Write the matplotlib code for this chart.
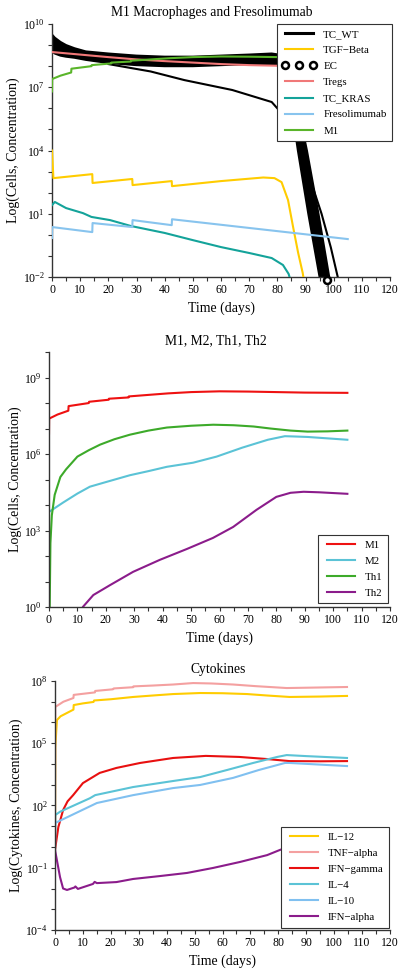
import numpy as np
import matplotlib
matplotlib.use('Agg')
import matplotlib.pyplot as plt
from matplotlib.ticker import FixedLocator, LogFormatterSciNotation, NullFormatter, MultipleLocator
from matplotlib.lines import Line2D

plt.rcParams['font.family'] = ['Liberation Serif', 'DejaVu Serif']
plt.rcParams['mathtext.fontset'] = 'stix'
plt.rcParams['axes.unicode_minus'] = True

# --- panel 1: M1 Macrophages and Fresolimumab
tcwt_up_t = [0, 1, 3, 5, 8, 12, 20, 30, 40, 50, 60, 70, 78, 83, 86, 88, 90.5, 94.6, 98.8]
tcwt_up_y = [9.5, 9.35, 9.15, 9.0, 8.85, 8.7, 8.6, 8.5, 8.45, 8.45, 8.5, 8.55, 8.6, 8.5, 7.0, 5.6, 4.0, 1.0, -2.3]
tcwt_lo_t = [0, 1, 3, 5, 8, 12, 20, 30, 40, 50, 60, 70, 78, 82, 84, 86, 87.3, 91, 95, 95.4]
tcwt_lo_y = [8.7, 8.6, 8.5, 8.45, 8.4, 8.3, 8.15, 8.05, 8.0, 8.0, 8.05, 8.1, 8.1, 8.0, 6.9, 5.2, 4.0, 1.0, -2.0, -2.3]
tcwt_run_t = [20, 35, 47, 64, 78, 84, 88.5, 92, 95.7, 99, 101.8]
tcwt_run_y = [8.1, 7.75, 7.34, 6.87, 6.3, 5.4, 4.0, 2.5, 1.0, -0.6, -2.2]

tgf_t = [0, 0.5, 14.3, 14.4, 28.5, 28.6, 42.5, 42.6, 60, 75, 79, 81.5, 83.8, 85.6, 87.4, 89.0, 89.6]
tgf_y = [4.0, 2.69, 2.88, 2.46, 2.65, 2.36, 2.55, 2.31, 2.55, 2.72, 2.69, 2.5, 1.65, 0.37, -0.86, -1.8, -2.3]

ec_t = [97.5]
ec_y = [-2.14]

tregs_t = [0, 10, 20, 30, 40, 50, 60, 70, 80, 90, 105]
tregs_y = [8.67, 8.55, 8.43, 8.32, 8.24, 8.17, 8.1, 8.05, 8.02, 8.0, 8.0]

kras_t = [0, 1, 5, 11, 14, 20.6, 28, 40, 50, 60, 70, 78, 82, 84, 85]
kras_y = [1.41, 1.56, 1.27, 1.03, 0.85, 0.7, 0.42, 0.09, -0.25, -0.58, -0.86, -1.1, -1.43, -1.85, -2.3]

freso_t = [0, 0.05, 14.3, 14.4, 28.5, 28.6, 42.5, 42.6, 105]
freso_y = [-0.15, 0.37, 0.13, 0.56, 0.37, 0.70, 0.46, 0.74, -0.2]

m1_t = [0, 0.05, 3, 6.8, 6.9, 14, 14.1, 21, 21.1, 28, 28.1, 35, 42, 50, 60, 70, 80, 90, 105]
m1_y = [6.8, 7.39, 7.55, 7.7, 7.88, 8.0, 8.05, 8.13, 8.17, 8.22, 8.26, 8.32, 8.38, 8.43, 8.46, 8.45, 8.43, 8.41, 8.4]

# --- panel 2: M1, M2, Th1, Th2
m2_t = [0, 5, 10, 14.4, 20, 28.5, 35, 41.5, 50.7, 59, 68, 77, 83, 86, 91, 105]
m2_y = [3.73, 4.1, 4.45, 4.72, 4.9, 5.17, 5.33, 5.5, 5.66, 5.9, 6.25, 6.56, 6.7, 6.69, 6.67, 6.56]

th1_t = [0.2, 0.5, 1, 2, 4, 6, 10, 14, 18, 23, 28.5, 35, 41.5, 50, 57.8, 65, 72, 78, 85, 91, 98, 105]
th1_y = [-0.5, 2.5, 3.6, 4.4, 5.1, 5.4, 5.9, 6.15, 6.37, 6.58, 6.76, 6.92, 7.04, 7.11, 7.15, 7.13, 7.08, 7.0, 6.92, 6.88, 6.89, 6.92]

th2_t = [11.3, 11.9, 15.6, 21.5, 29.6, 39, 48.6, 57.7, 64.8, 73, 80, 85, 89.6, 95, 105]
th2_y = [-0.3, 0, 0.47, 0.86, 1.38, 1.85, 2.28, 2.71, 3.14, 3.81, 4.32, 4.48, 4.52, 4.5, 4.44]

# --- panel 3: Cytokines
il12_t = [0, 0.1, 0.7, 2, 4.3, 6.6, 6.7, 10, 13.8, 14, 20, 28, 35, 42.3, 52, 60, 68.8, 76, 84, 95, 104.6]
il12_y = [-0.14, 4.8, 6.12, 6.3, 6.46, 6.62, 6.84, 6.92, 6.99, 7.06, 7.12, 7.23, 7.3, 7.37, 7.42, 7.41, 7.37, 7.3, 7.23, 7.25, 7.28]

tnf_t = [0, 0.1, 3, 6.6, 6.7, 14.3, 14.4, 20.8, 21, 28, 28.1, 35, 42.3, 49.5, 56, 63.8, 72, 83, 92, 104.6]
tnf_y = [-0.14, 6.75, 7.0, 7.18, 7.33, 7.45, 7.52, 7.6, 7.64, 7.7, 7.74, 7.78, 7.83, 7.9, 7.88, 7.83, 7.75, 7.66, 7.68, 7.71]

ifng_t = [0, 1.2, 2.9, 4.5, 6.5, 10, 16, 22, 30.5, 42.3, 54, 66, 75.8, 84, 95, 104.6]
ifng_y = [-0.14, 0.96, 1.78, 2.2, 2.5, 3.08, 3.57, 3.81, 4.05, 4.29, 4.39, 4.34, 4.24, 4.14, 4.13, 4.14]

il4_t = [0, 0.1, 1.8, 12.5, 14.4, 28, 42.3, 52, 61.6, 71, 79.6, 83, 90, 104.6]
il4_y = [-0.14, 1.54, 1.7, 2.35, 2.5, 2.89, 3.18, 3.37, 3.71, 4.05, 4.34, 4.43, 4.38, 4.29]

il10_t = [0, 0.1, 15, 28, 42.3, 52, 63.8, 73, 82.4, 84, 95, 104.6]
il10_y = [-0.14, 1.16, 2.12, 2.5, 2.84, 2.99, 3.33, 3.71, 4.05, 4.05, 3.97, 3.9]

ifna_t = [0, 1.8, 2.9, 4.3, 7.0, 7.3, 8.2, 13.6, 14.2, 15, 22, 28, 37.6, 47.3, 56.6, 66.3, 76, 80.6, 90, 105]
ifna_y = [-0.14, -1.45, -2.0, -2.07, -1.95, -1.9, -2.02, -1.78, -1.68, -1.74, -1.69, -1.54, -1.40, -1.25, -1.01, -0.72, -0.39, -0.14, 0.3, 0.8]


def p10(v):
    return np.power(10.0, np.array(v))


def style_axes(ax, ymin, ymax, majors, ylabel, title, title_x):
    ax.set_yscale('log')
    ax.set_xlim(0, 120)
    ax.set_ylim(10.0**ymin, 10.0**ymax)
    ax.yaxis.set_major_locator(FixedLocator([10.0**e for e in majors]))
    ax.yaxis.set_minor_locator(FixedLocator([10.0**e for e in range(ymin, ymax + 1)]))
    ax.yaxis.set_major_formatter(LogFormatterSciNotation())
    ax.yaxis.set_minor_formatter(NullFormatter())
    ax.xaxis.set_major_locator(MultipleLocator(10))
    ax.xaxis.set_minor_locator(MultipleLocator(5))
    for s in ['top', 'right']:
        ax.spines[s].set_visible(False)
    for s in ['left', 'bottom']:
        ax.spines[s].set_color('#333333')
        ax.spines[s].set_linewidth(1.0)
    ax.tick_params(which='both', direction='out', length=3, width=0.8, color='#333333',
                   labelsize=8.5, pad=2)
    ax.set_xlabel('Time (days)', fontsize=10, labelpad=4)
    ax.set_ylabel(ylabel, fontsize=10, labelpad=2)
    ax.set_title(title, fontsize=9.8, pad=6, x=title_x)


def add_legend(ax, handles, labels, loc, anchor):
    leg = ax.legend(handles, labels, loc=loc, bbox_to_anchor=anchor, fontsize=7.8,
                    handlelength=3.2, handletextpad=0.6, numpoints=3, labelspacing=0.6,
                    borderaxespad=0.0, fancybox=False, framealpha=1, edgecolor='#333333',
                    borderpad=0.5)
    leg.get_frame().set_linewidth(0.8)
    leg.set_zorder(10)
    return leg


fig = plt.figure(figsize=(4.0, 9.72), dpi=100)

# panel 1
ax1 = fig.add_axes([0.13, 0.715, 0.845, 0.2603])
xs = list(tcwt_up_t) + list(tcwt_lo_t[::-1])
ys = list(tcwt_up_y) + list(tcwt_lo_y[::-1])
ax1.fill(xs, p10(ys), color='black', lw=1.5, zorder=2)
ax1.plot(tcwt_run_t, p10(tcwt_run_y), color='black', lw=1.5, zorder=2)
ax1.plot(tgf_t, p10(tgf_y), color='#FFCC00', lw=1.5, zorder=3)
ax1.plot(ec_t, p10(ec_y), ls='none', marker='o', ms=5, mew=1.8, mec='black', mfc='white',
         clip_on=False, zorder=5)
ax1.plot(tregs_t, p10(tregs_y), color='#F07878', lw=1.5, zorder=3)
ax1.plot(kras_t, p10(kras_y), color='#14A39A', lw=1.5, zorder=3)
ax1.plot(freso_t, p10(freso_y), color='#88C4EE', lw=1.5, zorder=3)
ax1.plot(m1_t, p10(m1_y), color='#5AB52A', lw=1.5, zorder=3)
style_axes(ax1, -2, 10, [-2, 1, 4, 7, 10], 'Log(Cells, Concentration)',
           'M1 Macrophages and Fresolimumab', 0.472)
h1 = [Line2D([], [], color='black', lw=2.2),
      Line2D([], [], color='#FFCC00', lw=1.5),
      Line2D([], [], ls='none', marker='o', ms=5, mew=1.8, mec='black', mfc='white'),
      Line2D([], [], color='#F07878', lw=1.5),
      Line2D([], [], color='#14A39A', lw=1.5),
      Line2D([], [], color='#88C4EE', lw=1.5),
      Line2D([], [], color='#5AB52A', lw=1.5)]
l1 = ['TC_WT', 'TGF\u2212Beta', 'EC', 'Tregs', 'TC_KRAS', 'Fresolimumab', 'M1']
add_legend(ax1, h1, l1, 'upper right', (1.006, 1.0))

# panel 2
ax2 = fig.add_axes([0.1225, 0.3755, 0.8525, 0.2623])
ax2.plot(m1_t, p10(m1_y), color='#EE1111', lw=1.5, label='M1')
ax2.plot(m2_t, p10(m2_y), color='#5BC3D6', lw=1.5, label='M2')
ax2.plot(th1_t, p10(th1_y), color='#3DAA2A', lw=1.5, label='Th1')
ax2.plot(th2_t, p10(th2_y), color='#8B1C8B', lw=1.5, label='Th2')
style_axes(ax2, 0, 10, [0, 3, 6, 9], 'Log(Cells, Concentration)', 'M1, M2, Th1, Th2', 0.49)
h2, l2 = ax2.get_legend_handles_labels()
add_legend(ax2, h2, l2, 'lower right', (0.993, 0.015))

# panel 3
ax3 = fig.add_axes([0.1375, 0.0432, 0.8375, 0.2562])
ax3.plot(il12_t, p10(il12_y), color='#FFCC00', lw=1.5, label='IL\u221212')
ax3.plot(tnf_t, p10(tnf_y), color='#F4A0A0', lw=1.5, label='TNF\u2212alpha')
ax3.plot(ifng_t, p10(ifng_y), color='#E81010', lw=1.5, label='IFN\u2212gamma')
ax3.plot(il4_t, p10(il4_y), color='#5BC3D6', lw=1.5, label='IL\u22124')
ax3.plot(il10_t, p10(il10_y), color='#80C0F0', lw=1.5, label='IL\u221210')
ax3.plot(ifna_t, p10(ifna_y), color='#8B1C8B', lw=1.5, label='IFN\u2212alpha')
style_axes(ax3, -4, 8, [-4, -1, 2, 5, 8], 'Log(Cytokines, Concentration)', 'Cytokines', 0.488)
h3, l3 = ax3.get_legend_handles_labels()
add_legend(ax3, h3, l3, 'lower right', (0.997, 0.01))

fig.savefig('out.png', dpi=100)
